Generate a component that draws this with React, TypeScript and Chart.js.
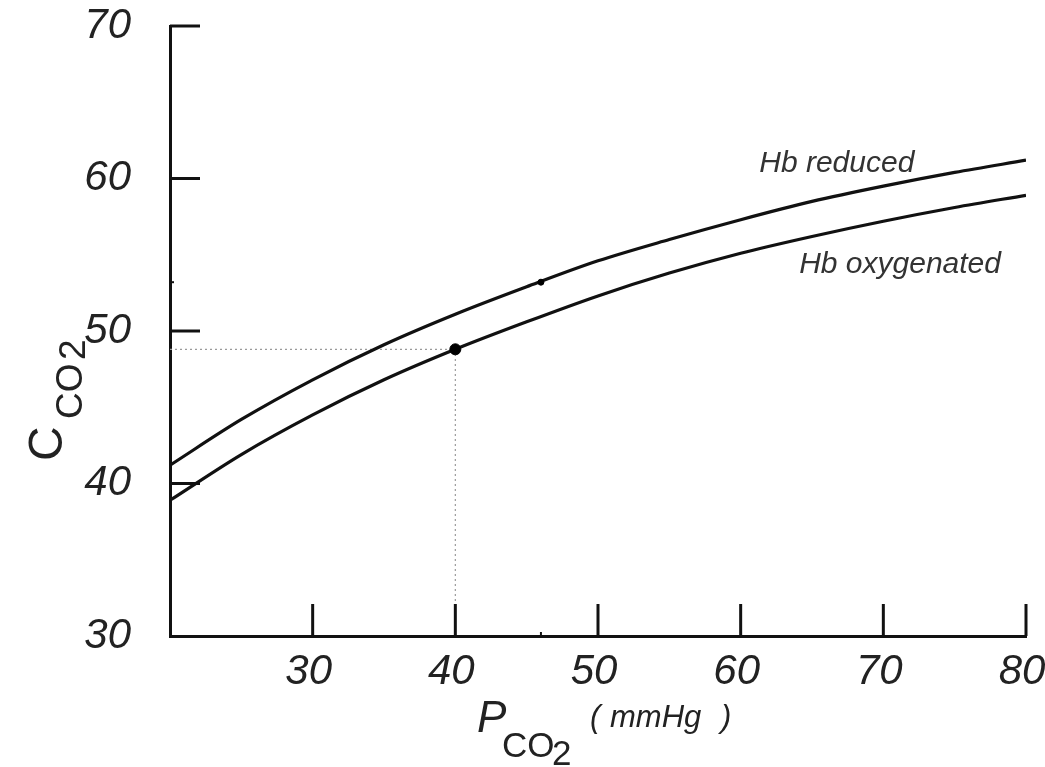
import React, { useEffect, useRef } from "react";
import { Chart, registerables } from "chart.js";

Chart.register(...registerables);

// ---- data ----
const pco2Values = [20, 25, 30, 35, 40, 45, 50, 55, 60, 65, 70, 75, 80];
const hbReducedValues = [41.2, 44.2, 46.8, 49.1, 51.1, 52.9, 54.6, 56.0, 57.3, 58.5, 59.5, 60.4, 61.2];
const hbOxygenatedValues = [38.9, 41.9, 44.5, 46.8, 48.8, 50.6, 52.3, 53.8, 55.1, 56.2, 57.2, 58.1, 58.9];
const arterialPoint = { x: 40, y: 48.8 };
const venousPoint = { x: 46, y: 53.2 };
const xTickValues = [30, 40, 50, 60, 70, 80];
const yTickValues = [40, 50, 60, 70];
const curveLabels = ["Hb reduced", "Hb oxygenated"];
const curveLabelAnchors = [
  { x: 61.3, y: 60.45 },
  { x: 64.1, y: 53.8 },
];

const FONT = "'Liberation Sans', Arial, Helvetica, sans-serif";

const decorPlugin = {
  id: "decor",
  afterDraw(chart: any) {
    const ctx = chart.ctx;
    const xs = chart.scales.x;
    const ys = chart.scales.y;
    const area = chart.chartArea;
    ctx.save();
    // inward ticks
    ctx.strokeStyle = "#111";
    ctx.lineWidth = 3;
    ctx.lineCap = "butt";
    xTickValues.forEach((v) => {
      const px = xs.getPixelForValue(v);
      ctx.beginPath();
      ctx.moveTo(px, area.bottom);
      ctx.lineTo(px, area.bottom - 32);
      ctx.stroke();
    });
    yTickValues.forEach((v) => {
      const py = ys.getPixelForValue(v);
      ctx.beginPath();
      ctx.moveTo(area.left, py);
      ctx.lineTo(area.left + 30, py);
      ctx.stroke();
    });
    // tiny venous marks on axes
    ctx.lineWidth = 2;
    const vx = xs.getPixelForValue(venousPoint.x);
    ctx.beginPath();
    ctx.moveTo(vx, area.bottom);
    ctx.lineTo(vx, area.bottom - 4);
    ctx.stroke();
    const vy = ys.getPixelForValue(venousPoint.y);
    ctx.beginPath();
    ctx.moveTo(area.left, vy);
    ctx.lineTo(area.left + 4, vy);
    ctx.stroke();

    // curve labels
    ctx.fillStyle = "#333";
    ctx.textBaseline = "alphabetic";
    ctx.textAlign = "left";
    ctx.font = `italic 30px ${FONT}`;
    curveLabels.forEach((t, i) => {
      const a = curveLabelAnchors[i];
      ctx.fillText(t, xs.getPixelForValue(a.x), ys.getPixelForValue(a.y));
    });

    // x axis title: P_{CO_2} ( mmHg )
    ctx.fillStyle = "#222";
    ctx.font = `italic 44px ${FONT}`;
    ctx.fillText("P", 477, 732);
    ctx.font = `35px ${FONT}`;
    ctx.fillText("CO", 502, 757);
    ctx.fillText("2", 552, 765);
    ctx.font = `italic 31px ${FONT}`;
    ctx.fillText("(", 590, 727);
    ctx.fillText("mmHg", 610, 727);
    ctx.fillText(")", 721, 727);

    // y axis title: C_{CO2}
    ctx.save();
    ctx.translate(62, 461);
    ctx.rotate(-Math.PI / 2);
    ctx.font = `48px ${FONT}`;
    ctx.fillText("C", 0, 0);
    ctx.font = `37px ${FONT}`;
    ctx.fillText("CO", 42, 20);
    ctx.fillText("2", 101, 23);
    ctx.restore();

    ctx.restore();
  },
};

export default function App() {
  const canvasRef = useRef<HTMLCanvasElement | null>(null);

  useEffect(() => {
    document.body.style.margin = "0";
    const canvas = canvasRef.current;
    if (!canvas) return;
    const tickFont = { family: FONT, size: 42, style: "italic" as const };
    const chart = new Chart(canvas, {
      type: "scatter",
      data: {
        datasets: [
          {
            label: "arterial",
            data: [arterialPoint],
            pointRadius: 5.5,
            pointBackgroundColor: "#000",
            pointBorderColor: "#000",
            order: 0,
          },
          {
            label: "venous",
            data: [venousPoint],
            pointRadius: 3,
            pointBackgroundColor: "#000",
            pointBorderColor: "#000",
            order: 0,
          },
          {
            label: curveLabels[0],
            data: pco2Values.map((x, i) => ({ x, y: hbReducedValues[i] })),
            showLine: true,
            borderColor: "#111",
            borderWidth: 3.2,
            pointRadius: 0,
            cubicInterpolationMode: "monotone",
            order: 1,
          },
          {
            label: curveLabels[1],
            data: pco2Values.map((x, i) => ({ x, y: hbOxygenatedValues[i] })),
            showLine: true,
            borderColor: "#111",
            borderWidth: 3.2,
            pointRadius: 0,
            cubicInterpolationMode: "monotone",
            order: 1,
          },
          {
            label: "guide",
            data: [
              { x: 20, y: arterialPoint.y },
              { x: arterialPoint.x, y: arterialPoint.y },
              { x: arterialPoint.x, y: 30 },
            ],
            showLine: true,
            borderColor: "#9a9a9a",
            borderWidth: 1.2,
            borderDash: [2, 3],
            pointRadius: 0,
            order: 2,
          },
        ],
      },
      options: {
        responsive: false,
        animation: false,
        devicePixelRatio: 1,
        layout: { padding: { top: 26, right: 19, bottom: 0, left: 0 } },
        plugins: { legend: { display: false }, tooltip: { enabled: false } },
        scales: {
          x: {
            type: "linear",
            min: 20,
            max: 80,
            ticks: {
              stepSize: 10,
              autoSkip: false,
              maxRotation: 0,
              padding: 11,
              labelOffset: -4,
              color: "#222",
              font: tickFont,
              callback: (v: any) => (v === 20 ? "" : String(v)),
            },
            grid: { drawOnChartArea: false, drawTicks: false },
            border: { display: true, color: "#111", width: 3 },
            afterFit: (s: any) => {
              s.height = 131;
              s.paddingLeft = 0;
              s.paddingRight = 0;
            },
          },
          y: {
            type: "linear",
            min: 30,
            max: 70,
            ticks: {
              stepSize: 10,
              padding: 39,
              color: "#222",
              font: tickFont,
            },
            grid: { drawOnChartArea: false, drawTicks: false },
            border: { display: true, color: "#111", width: 3 },
            afterFit: (s: any) => {
              s.width = 170;
              s.paddingTop = 0;
              s.paddingBottom = 0;
            },
          },
        },
      },
      plugins: [decorPlugin],
    });
    return () => chart.destroy();
  }, []);

  return (
    <canvas
      ref={canvasRef}
      width={1045}
      height={767}
      style={{ display: "block", position: "fixed", left: 0, top: 0, background: "#fff" }}
    />
  );
}
